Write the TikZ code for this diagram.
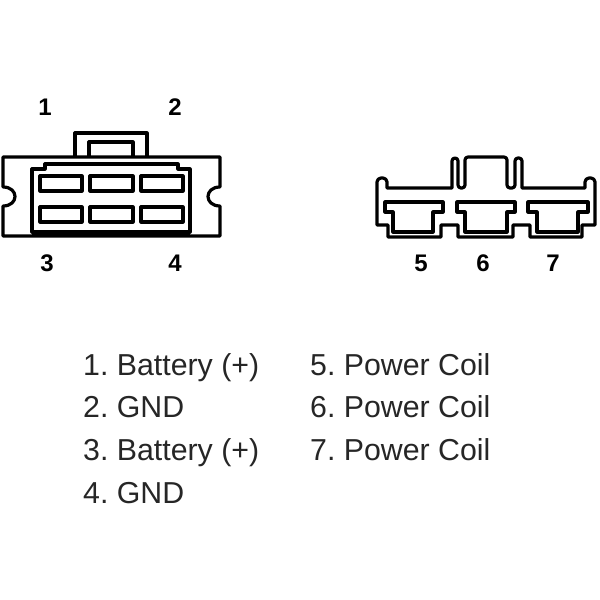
\documentclass[tikz,border=0pt]{standalone}
\usepackage{fontspec}
\setmainfont{Liberation Sans}
\usetikzlibrary{positioning}
\tikzset{
	wire/.style={line width=3.2pt, line join=round},
	pinno/.style={font=\fontsize{24}{24}\selectfont\bfseries, inner sep=0pt},
	legend/.style={font=\fontsize{30.3}{30.3}\selectfont\frenchspacing, inner sep=0pt, text height=21pt, text depth=6pt, text=black!85},
}
\begin{document}
\begin{tikzpicture}[x=1pt, y=-1pt]
	\useasboundingbox (0,0) rectangle (600,600);
	% left connector
	\draw [wire] (3,157) -- (220,157) -- (220,187) .. controls (204,187) and (204,206) .. (220,206) -- (220,236) -- (3,236) -- (3,206) .. controls (19,206) and (19,187) .. (3,187) -- cycle;
	\draw [wire] (75,157) -- (75,133) -- (147,133) -- (147,157);
	\draw [wire] (89,157) -- (89,142) -- (133,142) -- (133,157);
	\draw [wire] (32,232) -- (32,169) -- (45,169) -- (45,164) -- (178,164) -- (178,169) -- (190,169) -- (190,232) -- cycle;
	\draw [wire] (32,233.5) -- (190,233.5);
	\foreach \xa/\xb in {40/82, 90/133, 141/183} {
		\draw [wire] (\xa,176) rectangle (\xb,191);
		\draw [wire] (\xa,207) rectangle (\xb,222);
	}
	% right connector
	\draw [wire, rounded corners=4pt] (377,225) -- (377,178) -- (387,178) [sharp corners] -- (387,188) -- (452,188) [rounded corners=3pt] -- (452,158) -- (458,158) -- (458,188) -- (465,188) -- (465,157) -- (507,157) -- (507,188) -- (515,188) -- (515,158) -- (522,158) [sharp corners] -- (522,188) -- (585,188) [rounded corners=4pt] -- (585,178) -- (595,178) [sharp corners] -- (595,225) -- (582,225) -- (582,237) -- (530,237) -- (530,225) -- (513,225) -- (513,237) -- (458,237) -- (458,225) -- (441,225) -- (441,237) -- (388,237) -- (388,225) -- cycle;
	\foreach \xa/\xb/\xc/\xd in {385/393/433/443, 457/465/507/515, 528/537/578/588} {
		\draw [wire] (\xa,202) -- (\xd,202) -- (\xd,212) -- (\xc,212) -- (\xc,232) -- (\xb,232) -- (\xb,212) -- (\xa,212) -- cycle;
	}
	% pin numbers
	\node [pinno] (n1) at (45,107) {1};
	\node [pinno] (n2) at (175,107) {2};
	\node [pinno] (n3) at (47,263) {3};
	\node [pinno] (n4) at (175,263) {4};
	\node [pinno] (n5) at (421,263) {5};
	\node [pinno] (n6) at (483,263) {6};
	\node [pinno] (n7) at (553,263) {7};
	% legend
	\node [legend, anchor=north west] (bat1) at (83,354) {1. Battery (+)};
	\node [legend, below=15.3pt of bat1.south west, anchor=north west] (gnd1) {2. GND};
	\node [legend, below=15.3pt of gnd1.south west, anchor=north west] (bat2) {3. Battery (+)};
	\node [legend, below=15.3pt of bat2.south west, anchor=north west] (gnd2) {4. GND};
	\node [legend, anchor=north west] (coil1) at (310,354) {5. Power Coil};
	\node [legend, below=15.3pt of coil1.south west, anchor=north west] (coil2) {6. Power Coil};
	\node [legend, below=15.3pt of coil2.south west, anchor=north west] (coil3) {7. Power Coil};
\end{tikzpicture}
\end{document}
